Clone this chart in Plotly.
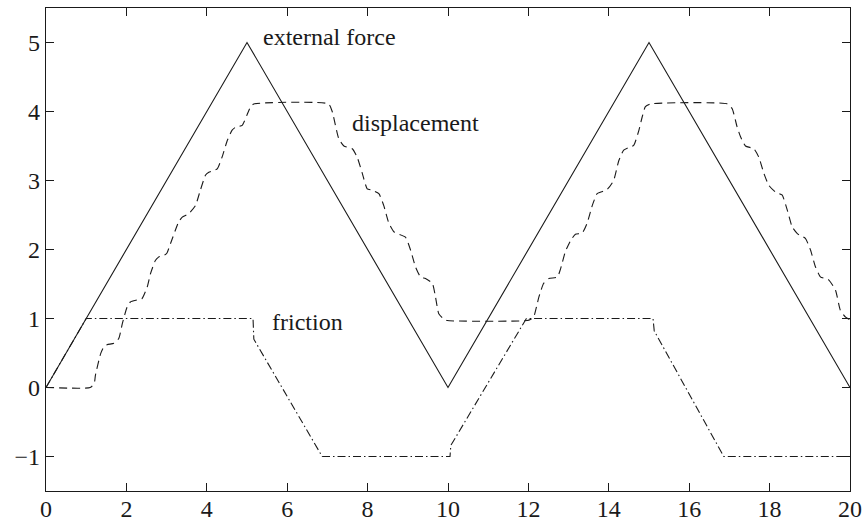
import plotly.graph_objects as go

# External force
force_t = [0, 5, 10, 15, 20]
force_y = [0, 5, 0, 5, 0]

# Friction
fric_t = [0, 1.0, 5.15, 5.17, 6.87, 10.05, 10.07, 11.95, 15.1, 15.13, 16.86, 20]
fric_y = [0, 1.0, 1.0, 0.70, -1.0, -1.0, -0.84, 1.0, 1.0, 0.82, -1.0, -1.0]

# Displacement
disp_t = [0, 1.1, 1.2, 1.23, 1.36, 1.44, 1.52, 1.69, 1.81, 1.90, 2.02, 2.10, 2.27, 2.39,
          2.52, 2.60, 2.72, 2.80, 2.95, 3.01, 3.10, 3.30, 3.39, 3.55, 3.72, 3.84, 3.97,
          4.05, 4.26, 4.38, 4.51, 4.63, 4.71, 4.88, 5.0, 5.09, 5.17,
          7.03, 7.12, 7.28, 7.41, 7.62, 7.74, 7.87, 7.99, 8.11, 8.28, 8.40, 8.53, 8.65,
          8.74, 8.94, 9.07, 9.19, 9.32, 9.44, 9.61, 9.69, 9.77, 9.90, 9.98,
          11.97, 12.06, 12.13, 12.26, 12.38, 12.51, 12.72, 12.80, 12.92, 13.05, 13.17,
          13.34, 13.46, 13.59, 13.71, 13.79, 13.96, 14.12, 14.25, 14.37, 14.50, 14.62,
          14.75, 14.83, 14.91, 15.04,
          16.95, 17.07, 17.19, 17.28, 17.40, 17.61, 17.73, 17.86, 17.98, 18.15, 18.31,
          18.44, 18.56, 18.69, 18.89, 19.02, 19.14, 19.27, 19.39, 19.47, 19.64, 19.76,
          19.89, 20.0]
disp_y = [0, 0, 0.06, 0.18, 0.49, 0.59, 0.62, 0.64, 0.71, 0.93, 1.17, 1.24, 1.27, 1.29,
          1.46, 1.65, 1.84, 1.89, 1.92, 1.95, 2.09, 2.40, 2.47, 2.52, 2.64, 2.86, 3.08,
          3.12, 3.17, 3.34, 3.58, 3.73, 3.77, 3.80, 3.95, 4.07, 4.11,
          4.11, 4.0, 3.61, 3.50, 3.46, 3.34, 3.10, 2.88, 2.86, 2.81, 2.64, 2.38, 2.26,
          2.23, 2.18, 1.99, 1.75, 1.60, 1.58, 1.51, 1.31, 1.07, 0.99, 0.97,
          0.97, 0.99, 1.02, 1.31, 1.51, 1.58, 1.60, 1.72, 1.97, 2.13, 2.22,
          2.24, 2.38, 2.64, 2.81, 2.83, 2.87, 3.00, 3.29, 3.44, 3.48, 3.51,
          3.73, 3.92, 4.07, 4.11,
          4.11, 4.04, 3.78, 3.63, 3.50, 3.46, 3.34, 3.10, 2.93, 2.83, 2.79,
          2.57, 2.33, 2.23, 2.16, 1.99, 1.75, 1.60, 1.58, 1.56, 1.41, 1.12,
          1.02, 0.98]

x_ticks = [0, 2, 4, 6, 8, 10, 12, 14, 16, 18, 20]
y_ticks = [-1, 0, 1, 2, 3, 4, 5]

labels = ["external force", "displacement", "friction"]
label_t = [5.41, 7.62, 5.61]
label_y = [5.08, 3.84, 0.95]

ink = "#1a1a1a"
font = "Liberation Serif"

fig = go.Figure()
fig.add_trace(go.Scatter(x=force_t, y=force_y, mode="lines",
                         line=dict(color=ink, width=1.1), showlegend=False))
fig.add_trace(go.Scatter(x=disp_t, y=disp_y, mode="lines",
                         line=dict(color=ink, width=1.1, dash="8px,5px",
                                   shape="spline", smoothing=0.5),
                         showlegend=False))
fig.add_trace(go.Scatter(x=fric_t, y=fric_y, mode="lines",
                         line=dict(color=ink, width=1.1, dash="8px,3px,1.5px,3px"),
                         showlegend=False))

for txt, tx, ty in zip(labels, label_t, label_y):
    fig.add_annotation(x=tx, y=ty, text=txt, showarrow=False, xanchor="left",
                       yanchor="middle", xshift=-2,
                       font=dict(family=font, size=24, color=ink))

axis_common = dict(showgrid=False, zeroline=False, showline=True, linecolor=ink,
                   linewidth=1.2, mirror="ticks", ticks="inside", ticklen=8,
                   tickcolor=ink, tickwidth=1, automargin=False,
                   ticklabeloverflow="allow",
                   tickfont=dict(family=font, size=24, color=ink))

fig.update_xaxes(range=[0, 20], tickvals=x_ticks, ticktext=[str(v) for v in x_ticks],
                 ticklabelstandoff=-4, **axis_common)
fig.update_yaxes(range=[-1.5, 5.5], tickvals=y_ticks,
                 ticktext=[("\u2212" + str(-v)) if v < 0 else str(v) for v in y_ticks],
                 **axis_common)

fig.update_layout(width=862, height=525, margin=dict(l=46, r=12, t=8, b=34),
                  paper_bgcolor="white", plot_bgcolor="white",
                  font=dict(family=font), hovermode=False)

# remove the default 8px page margin so the figure fills the 862x525 window
fig.write_html("out.html",
               config={"displayModeBar": False},
               post_script="document.body.style.margin='0';"
                           "document.body.style.overflow='hidden';")
